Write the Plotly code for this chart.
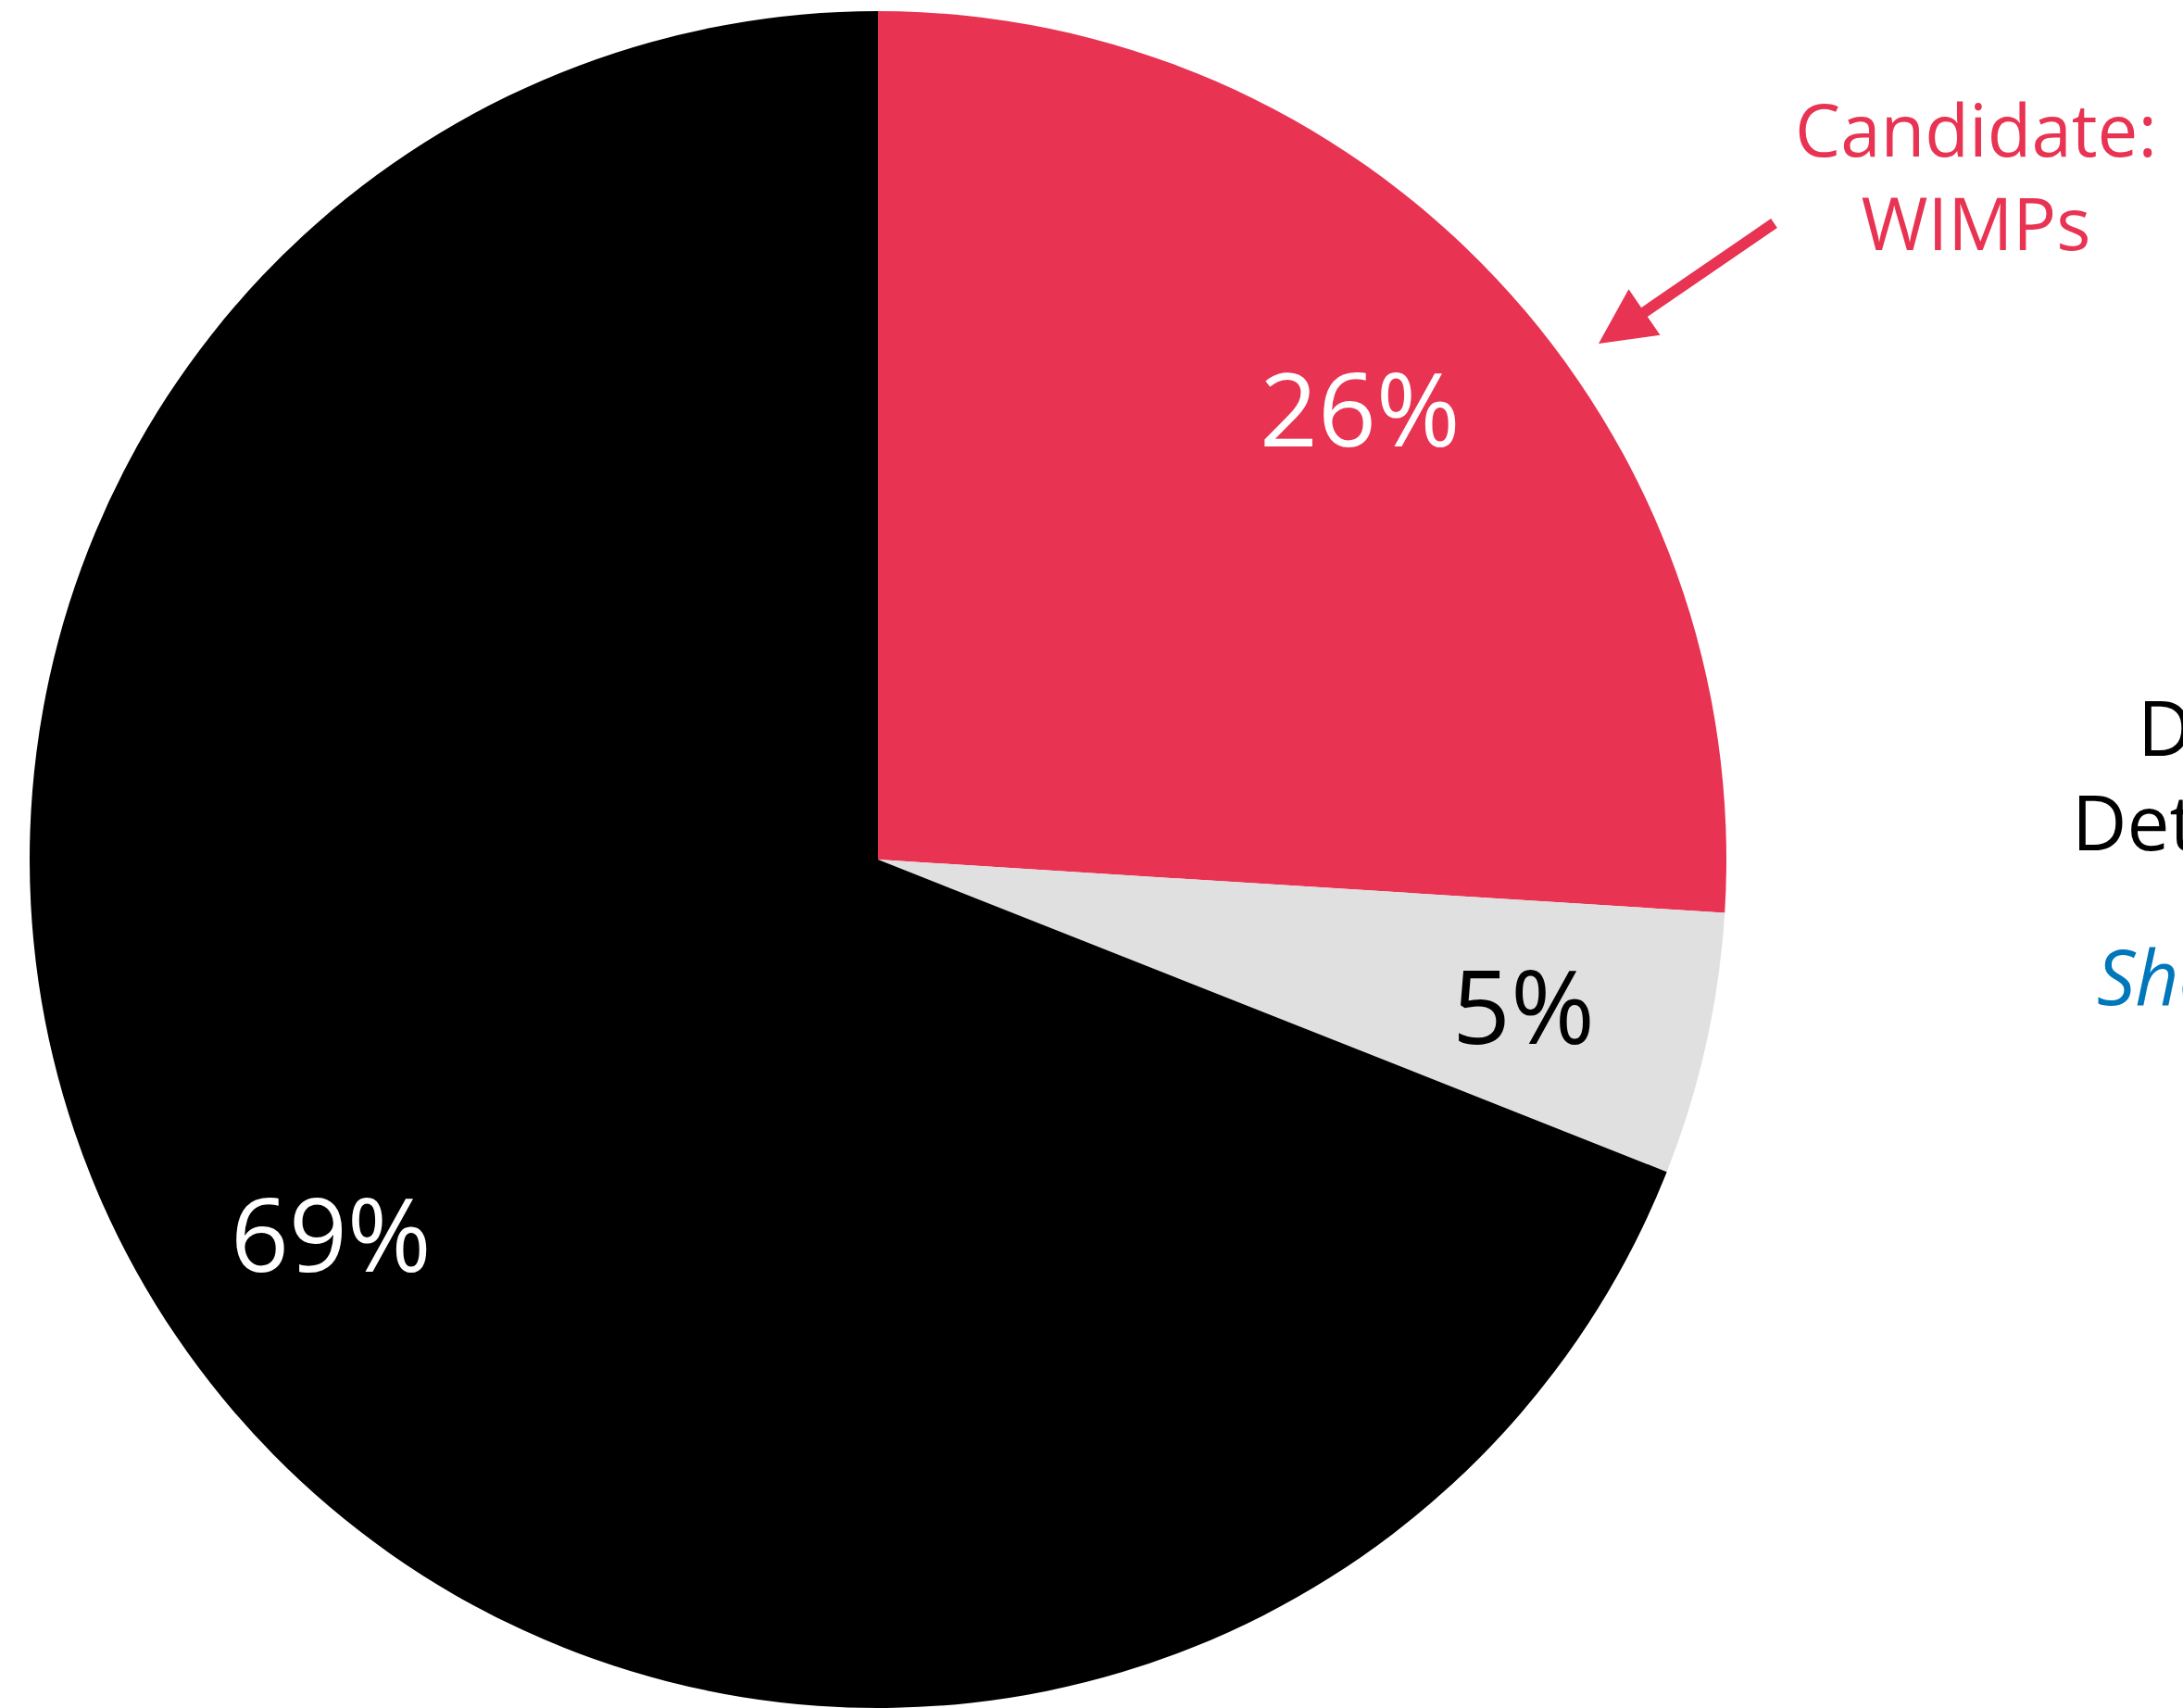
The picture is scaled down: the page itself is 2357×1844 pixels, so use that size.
import math
import plotly.graph_objects as go

# Composition of the universe (percent of total energy density)
components = ["Dark Matter", "Ordinary Matter", "Dark Energy"]
shares = [26, 5, 69]
slice_colors = ["#E83352", "#E0E0E0", "#000000"]
label_colors = ["#FFFFFF", "#000000", "#FFFFFF"]

W, H = 2357, 1844
TOP = 12
CX = 948                     # pie centre, pixels from the left
R = (H - TOP) / 2            # radius set by the vertical extent of the domain
CY = TOP + R                 # pie centre, pixels from the top
FONT = "Open Sans, Noto Sans, sans-serif"

fig = go.Figure(
    go.Pie(
        labels=components,
        values=shares,
        sort=False,
        direction="clockwise",
        rotation=0,
        marker=dict(colors=slice_colors, line=dict(width=0)),
        textinfo="none",
        hoverinfo="label+percent",
        showlegend=False,
        domain=dict(x=[(CX - R) / W, (CX + R) / W], y=[0, 1]),
    )
)


def px(x, y):
    """Pixel position -> paper coordinates."""
    return x / W, 1 - (y - TOP) / (H - TOP)


annotations = []

# Percentage labels placed on each slice's mid-angle
total = sum(shares)
cum = 0
for value, color in zip(shares, label_colors):
    mid = (cum + value / 2) / total * 2 * math.pi
    cum += value
    d = 0.78 * R
    lx, ly = CX + d * math.sin(mid), CY - d * math.cos(mid)
    x, y = px(lx, ly)
    annotations.append(dict(
        x=x, y=y, xref="paper", yref="paper", text=f"{value}%",
        showarrow=False, xanchor="center", yanchor="middle",
        font=dict(family=FONT, size=110, color=color),
    ))

# Callout for the dark-matter slice
red = slice_colors[0]
x, y = px(2133, 190)
annotations.append(dict(
    x=x, y=y, xref="paper", yref="paper", text="Candidate:<br>WIMPs",
    showarrow=False, xanchor="center", yanchor="middle", align="center",
    font=dict(family=FONT, size=78, color=red),
))

tip_x, tip_y = px(1726, 371)
annotations.append(dict(
    x=tip_x, y=tip_y, xref="paper", yref="paper", text="",
    showarrow=True, arrowhead=2, arrowsize=1.0, arrowwidth=12,
    arrowcolor=red, ax=191, ay=-131, standoff=0,
))

# Side panel text running off the right edge
for text, lx, cy, color in [
    ("Direct", 2306, 784, "#000000"),
    ("Detection", 2235, 886, "#000000"),
    ("<i>Show more</i>", 2262, 1053, "#0077BB"),
]:
    x, y = px(lx, cy)
    annotations.append(dict(
        x=x, y=y, xref="paper", yref="paper", text=text, showarrow=False,
        xanchor="left", yanchor="middle",
        font=dict(family=FONT, size=82, color=color),
    ))

fig.update_layout(
    width=W, height=H,
    margin=dict(l=0, r=0, t=TOP, b=0, pad=0),
    paper_bgcolor="white", plot_bgcolor="white",
    annotations=annotations,
)

fig.write_html("out.html")
